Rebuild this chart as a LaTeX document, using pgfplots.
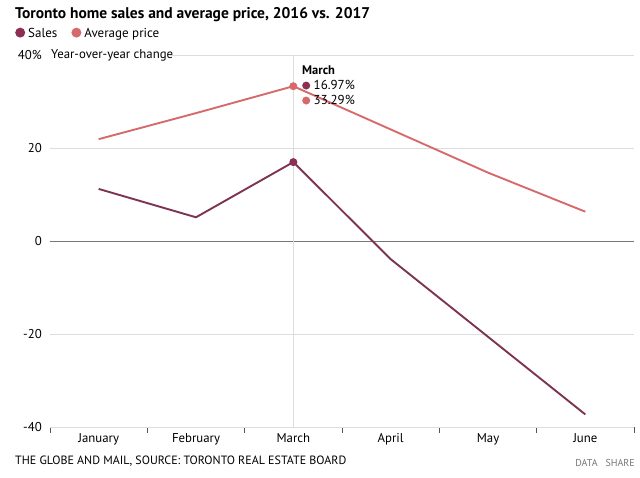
\documentclass[border=0pt]{standalone}
\usepackage{fontspec}
\setmainfont{PT Sans}
\usepackage{pgfplots}
\pgfplotsset{compat=1.18}
\definecolor{sales}{HTML}{7D3352}
\definecolor{salesdot}{HTML}{8B2F55}
\definecolor{avgp}{HTML}{D66A6B}
\definecolor{gridc}{HTML}{DDDDDD}
\definecolor{zeroc}{HTML}{777777}
\definecolor{tickc}{HTML}{555555}
\begin{document}
\begin{tikzpicture}[x=1pt,y=1pt]
\path[use as bounding box] (0,0) rectangle (640,-478);
\begin{axis}[
  at={(50pt,-427pt)}, anchor=south west,
  width=584pt, height=372pt, scale only axis,
  xmin=-0.5, xmax=5.5, ymin=-40, ymax=40,
  axis x line*=bottom, axis y line*=left,
  x axis line style={draw=gridc, line width=0.8pt, -},
  y axis line style={draw=none},
  xtick={0,1,2,3,4,5},
  xticklabels={January,February,March,April,May,June},
  minor xtick={-0.5,0.5,1.5,2.5,3.5,4.5,5.5},
  major tick length=0pt, minor tick length=6pt,
  tick align=outside,
  minor tick style={draw=tickc, line width=0.9pt},
  ytick={-40,-20,0,20,40},
  yticklabels={-40,-20,0,20,40\%},
  ymajorgrids=false,
  tick label style={font=\fontsize{12.8}{14}\selectfont, text=black},
  yticklabel style={inner sep=0pt, xshift=-8pt},
  xticklabel style={inner sep=0pt, yshift=-6pt},
  clip=false,
]
\draw[gridc, line width=0.8pt] (axis cs:-0.5,20) -- (axis cs:5.5,20);
\draw[gridc, line width=0.8pt] (axis cs:-0.5,-20) -- (axis cs:5.5,-20);
\draw[gridc, line width=0.8pt] (axis cs:0.733,40) -- (axis cs:5.5,40);
\draw[zeroc, line width=0.8pt] (axis cs:-0.5,0) -- (axis cs:5.5,0);
\draw[gridc, line width=0.8pt] (axis cs:2,-40) -- (axis cs:2,40);
\addplot[avgp, line width=1.9pt, mark=*, mark indices={3}, mark size=3pt, mark options={fill=avgp, draw=avgp}]
  coordinates {(0,21.9) (1,27.5) (2,33.29) (3,24.0) (4,14.7) (5,6.3)};
\addplot[sales, line width=1.9pt, mark=*, mark indices={3}, mark size=3pt, mark options={fill=salesdot, draw=salesdot}]
  coordinates {(0,11.2) (1,5.1) (2,16.97) (3,-3.9) (4,-20.6) (5,-37.3)};
\end{axis}
\node[anchor=west, inner sep=0pt, font=\fontsize{12.8}{14}\selectfont] at (51,-55) {Year-over-year change};
\node[anchor=west, inner sep=0pt, font=\bfseries\fontsize{15.5}{18}\selectfont] at (15,-15) {Toronto home sales and average price, 2016 vs. 2017};
\node[anchor=west, inner sep=0pt, font=\fontsize{13}{15}\selectfont] at (15,-34)
  {\textcolor{salesdot}{\tikz\fill (0,0) circle (5pt);}\hspace{3pt}Sales\hspace{14pt}\textcolor{avgp}{\tikz\fill (0,0) circle (5pt);}\hspace{3pt}Average price};
\node[anchor=west, inner sep=0pt, font=\bfseries\fontsize{12.5}{14}\selectfont] at (302,-70) {March};
\node[anchor=west, inner sep=0pt, font=\fontsize{13}{15}\selectfont] at (302,-85)
  {\textcolor{salesdot}{\tikz\fill (0,0) circle (4pt);}\hspace{3.5pt}16.97\%};
\node[anchor=west, inner sep=0pt, font=\fontsize{13}{15}\selectfont] at (302,-100)
  {\textcolor{avgp}{\tikz\fill (0,0) circle (4pt);}\hspace{3.5pt}33.29\%};
\node[anchor=west, inner sep=0pt, font=\fontsize{12}{14}\selectfont] at (15,-461) {THE GLOBE AND MAIL, SOURCE: TORONTO REAL ESTATE BOARD};
\node[anchor=east, inner sep=0pt, font=\fontsize{10}{12}\selectfont, text=zeroc] at (635,-463) {DATA\hspace{8pt}SHARE};
\end{tikzpicture}
\end{document}
